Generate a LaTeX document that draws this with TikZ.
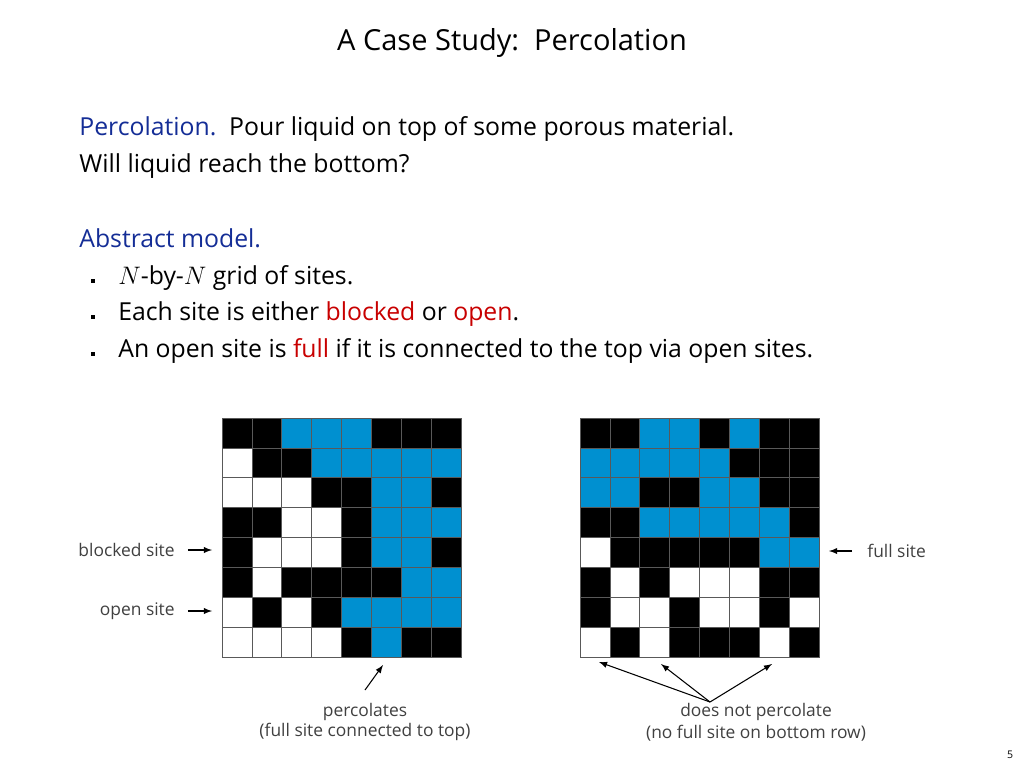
\documentclass[tikz,border=0pt]{standalone}
\usepackage{fontspec}
\setmainfont{Open Sans}
\usetikzlibrary{positioning}

\definecolor{headblue}{RGB}{20,45,150}
\definecolor{hotred}{RGB}{200,0,0}
\definecolor{fullblue}{RGB}{0,144,208}
\definecolor{tagray}{RGB}{64,64,64}
\colorlet{col0}{white}
\colorlet{col1}{black}
\colorlet{col2}{fullblue}

\tikzset{
  body/.style={anchor=base west, inner sep=0pt, font=\fontsize{14.1}{16}\selectfont},
  tag/.style={inner sep=0pt, text=tagray, font=\fontsize{9.9}{12}\selectfont},
  cell/.style={draw=black!65, line width=0.4pt},
  bulletbox/.style={fill=black, inner sep=0pt, minimum size=2.6pt},
  pointer/.style={->, >=latex, line width=0.6pt},
}

\begin{document}
\begin{tikzpicture}[x=0.02cm, y=-0.02cm]
\useasboundingbox (0,0) rectangle (1024,768);

% title
\node[anchor=base, inner sep=0pt, font=\fontsize{16.5}{19}\selectfont] (title) at (512,50) {A Case Study:\ \ Percolation};

% text block
\node[body] (line1) at (79,135) {\textcolor{headblue}{Percolation.}\ \ Pour liquid on top of some porous material.};
\node[body] (line2) at (79,172) {Will liquid reach the bottom?};
\node[body, text=headblue] (model) at (79,247) {Abstract model.};
\node[body] (item1) at (118,284) {$N$-by-$N$ grid of sites.};
\node[body] (item2) at (118,320) {Each site is either \textcolor{hotred}{blocked} or \textcolor{hotred}{open}.};
\node[body] (item3) at (118,357) {An open site is \textcolor{hotred}{full} if it is connected to the top via open sites.};
\node[bulletbox] (dot1) at (93,281) {};
\node[bulletbox] (dot2) at (93,317) {};
\node[bulletbox] (dot3) at (93,354) {};

% left grid: percolates
\foreach \row [count=\r] in {{1,1,2,2,2,1,1,1},{0,1,1,2,2,2,2,2},{0,0,0,1,1,2,2,1},{1,1,0,0,1,2,2,2},
                             {1,0,0,0,1,2,2,1},{1,0,1,1,1,1,2,2},{0,1,0,1,2,2,2,2},{0,0,0,0,1,2,1,1}}
  \foreach \c [count=\k] in \row
    \draw[cell, fill=col\c] ({222+(\k-1)*29.9}, {418+(\r-1)*29.9}) rectangle +(29.9,29.9);

% right grid: does not percolate
\foreach \row [count=\r] in {{1,1,2,2,1,2,1,1},{2,2,2,2,2,1,1,1},{2,2,1,1,2,2,1,1},{1,1,2,2,2,2,2,1},
                             {0,1,1,1,1,1,2,2},{1,0,1,0,0,0,1,1},{1,0,0,1,0,0,1,0},{0,1,0,1,1,1,0,1}}
  \foreach \c [count=\k] in \row
    \draw[cell, fill=col\c] ({580+(\k-1)*29.9}, {418+(\r-1)*29.9}) rectangle +(29.9,29.9);

% side tags
\node[tag, anchor=east] (blocked) at (175,550) {blocked site};
\node[tag, anchor=east] (open) at (175,611) {open site};
\node[tag, anchor=west] (full) at (867,551) {full site};
\coordinate (blockedtip) at (212,550);
\coordinate (opentip) at (212,611);
\coordinate (fulltip) at (829,551);
\draw[pointer] ([xshift=0.26cm]blocked.east) -- (blockedtip);
\draw[pointer] ([xshift=0.26cm]open.east) -- (opentip);
\draw[pointer] ([xshift=-0.3cm]full.west) -- (fulltip);

% bottom captions
\node[tag] (perc) at (365,712) {percolates};
\node[tag] (percwhy) at (365,732) {(full site connected to top)};
\node[tag] (noperc) at (756,712) {does not percolate};
\node[tag] (nopercwhy) at (756,733) {(no full site on bottom row)};
\coordinate (percfoot) at (365,690);
\coordinate (perctip) at (383,665);
\draw[pointer] (percfoot) -- (perctip);
\coordinate (fork) at (710,702);
\coordinate (tipa) at (599,662);
\coordinate (tipb) at (661,664);
\coordinate (tipc) at (772,664);
\draw[pointer] (fork) -- (tipa);
\draw[pointer] (fork) -- (tipb);
\draw[pointer] (fork) -- (tipc);

% page number
\node[inner sep=0pt, font=\fontsize{6}{7}\selectfont] (page) at (1010,755) {5};
\end{tikzpicture}
\end{document}
